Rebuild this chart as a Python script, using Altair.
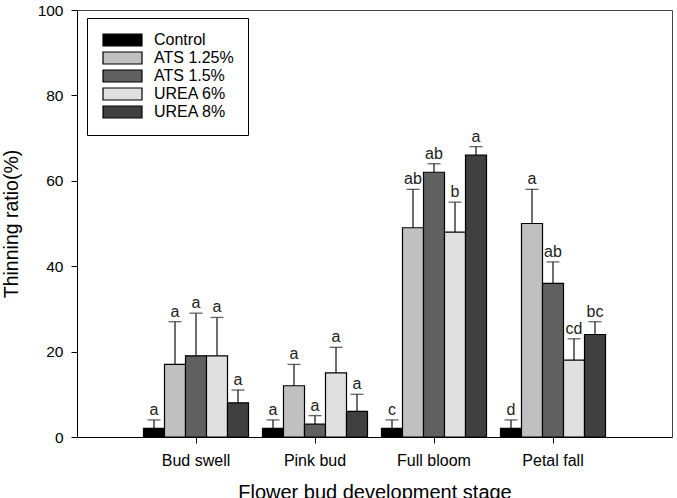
import altair as alt
import pandas as pd

stages = ["Bud swell", "Pink bud", "Full bloom", "Petal fall"]
treatments = ["Control", "ATS 1.25%", "ATS 1.5%", "UREA 6%", "UREA 8%"]
fill_colors = ["#000000", "#c0c0c0", "#606060", "#e0e0e0", "#404040"]

control_mean = [2, 2, 2, 2]
ats125_mean = [17, 12, 49, 50]
ats15_mean = [19, 3, 62, 36]
urea6_mean = [19, 15, 48, 18]
urea8_mean = [8, 6, 66, 24]

control_upper = [4, 4, 4, 4]
ats125_upper = [27, 17, 58, 58]
ats15_upper = [29, 5, 64, 41]
urea6_upper = [28, 21, 55, 23]
urea8_upper = [11, 10, 68, 27]

control_letter = ["a", "a", "c", "d"]
ats125_letter = ["a", "a", "ab", "a"]
ats15_letter = ["a", "a", "ab", "ab"]
urea6_letter = ["a", "a", "b", "cd"]
urea8_letter = ["a", "a", "a", "bc"]

means = [control_mean, ats125_mean, ats15_mean, urea6_mean, urea8_mean]
uppers = [control_upper, ats125_upper, ats15_upper, urea6_upper, urea8_upper]
letters = [control_letter, ats125_letter, ats15_letter, urea6_letter, urea8_letter]

rows = []
for t, m, u, l in zip(treatments, means, uppers, letters):
    for s, mv, uv, lv in zip(stages, m, u, l):
        rows.append({"stage": s, "treatment": t, "mean": mv, "upper": uv, "letter": lv})
df = pd.DataFrame(rows)

FONT = "Liberation Sans"

x = alt.X(
    "stage:N",
    sort=stages,
    scale=alt.Scale(paddingInner=0, paddingOuter=0.5),
    axis=alt.Axis(
        title="Flower bud development stage",
        labelAngle=0,
        labelFontSize=16,
        titleFontSize=20,
        tickSize=6,
        labelPadding=9,
        titlePadding=14,
        domainColor="black",
        tickColor="black",
    ),
)
xo = alt.XOffset(
    "treatment:N",
    sort=treatments,
    scale=alt.Scale(paddingInner=0, paddingOuter=0.333),
)
y_axis = alt.Axis(
    title="Thinning ratio(%)",
    values=[0, 20, 40, 60, 80, 100],
    labelFontSize=15.5,
    titleFontSize=19.5,
    tickSize=6,
    labelPadding=8,
    titlePadding=16,
    grid=False,
    domainColor="black",
    tickColor="black",
)

base = alt.Chart(df)

bars = base.mark_bar(stroke="black", strokeWidth=1.2).encode(
    x=x,
    xOffset=xo,
    y=alt.Y("mean:Q", scale=alt.Scale(domain=[0, 100], nice=False), axis=y_axis),
    color=alt.Color(
        "treatment:N",
        sort=treatments,
        scale=alt.Scale(domain=treatments, range=fill_colors),
        legend=alt.Legend(
            title=None,
            orient="none",
            legendX=10,
            legendY=8,
            symbolType="M-1,-1H5.5V1H-1Z",
            symbolSize=144,
            symbolStrokeColor="black",
            symbolStrokeWidth=1.2,
            symbolOpacity=1,
            labelFontSize=16,
            labelFont=FONT,
            labelColor="black",
            labelOffset=37,
            rowPadding=0,
            padding=14,
            strokeColor="black",
        ),
    ),
)

rules = base.mark_rule(color="#222222", strokeWidth=1.3).encode(
    x=x, xOffset=xo, y="mean:Q", y2="upper:Q"
)
caps = base.mark_tick(color="#222222", thickness=1.3, size=13).encode(
    x=x, xOffset=xo, y="upper:Q"
)
labels = base.mark_text(
    baseline="bottom", dy=-2, fontSize=16, font=FONT, color="#222222"
).encode(x=x, xOffset=xo, y="upper:Q", text="letter:N")

chart = (
    alt.layer(rules, caps, bars, labels)
    .properties(
        width=595,
        height=427,
        autosize=alt.AutoSizeParams(type="none"),
        padding={"left": 77, "top": 10, "right": 5, "bottom": 61},
    )
    .configure(background="white")
    .configure_view(stroke="#444444", strokeWidth=1)
    .configure_axis(
        labelFont=FONT,
        titleFont=FONT,
        titleFontWeight="normal",
        labelColor="black",
        titleColor="black",
    )
)

chart.save("out.html", embed_options={"renderer": "svg", "actions": False})
